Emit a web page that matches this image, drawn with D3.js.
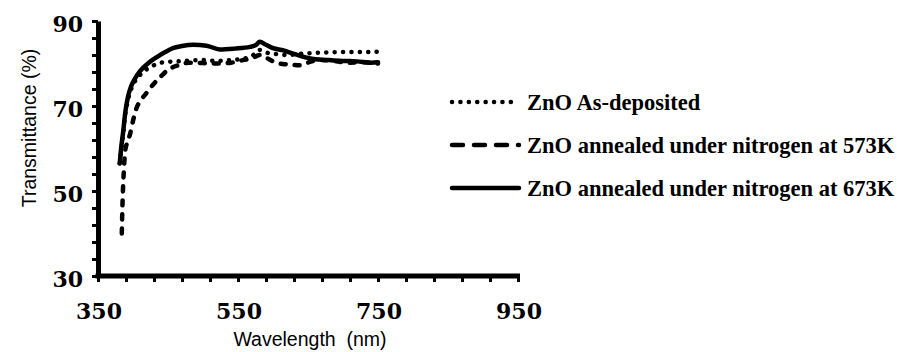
<!DOCTYPE html>
<html lang="en">
<head>
    <meta charset="UTF-8">
    <title>ZnO Transmittance</title>
    <style>
    body { margin: 0; background: #fff; }
    svg { display: block; }
    .axis path, .axis line { stroke: #000; }
    .tick-label { font-family: "DejaVu Serif", serif; font-weight: bold; font-size: 22px; fill: #000; }
    .title { font-family: "Liberation Sans", Arial, sans-serif; font-size: 19.5px; fill: #000; white-space: pre; }
    .legend-text { font-family: "Liberation Serif", serif; font-weight: bold; font-size: 22.5px; fill: #000; }
    .series { fill: none; stroke: #000; stroke-width: 4.5; stroke-linecap: round; stroke-linejoin: round; }
    </style>
</head>
<body>
<div id="chart"></div>
<script src="https://d3js.org/d3.v7.min.js"></script>
<script>
    // series data
    var seriesNames = ["ZnO As-deposited", "ZnO annealed under nitrogen at 573K", "ZnO annealed under nitrogen at 673K"];

    var wlAsDep = [381, 383, 386, 389, 393, 397, 402, 410, 420, 430, 440, 450, 465, 480, 500, 520, 540, 560, 572, 581, 590, 605, 620, 640, 660, 680, 700, 720, 740, 750];
    var tAsDep  = [56.5, 59.5, 63.5, 68, 71.5, 73.8, 75.6, 77.3, 78.7, 79.6, 80.2, 80.4, 80.5, 80.7, 80.8, 80.6, 80.8, 81.2, 82, 83.2, 82.6, 82.2, 82.0, 82.3, 82.5, 82.6, 82.7, 82.7, 82.7, 82.8];

    var wl573 = [384, 385, 387, 389, 392, 396, 400, 405, 412, 420, 430, 440, 450, 465, 480, 500, 520, 540, 557, 570, 581, 592, 606, 620, 639, 655, 670, 690, 710, 730, 750];
    var t573  = [40, 47, 55, 59.6, 61.5, 63.5, 66.5, 69.5, 71.5, 73.2, 75.3, 77, 78.5, 79.6, 80.2, 80.1, 80, 80.2, 80.8, 81.2, 82, 81.2, 80.1, 79.8, 79.6, 80.5, 80.8, 80.5, 80.2, 80.3, 80.0];

    var wl673 = [381, 383, 386, 389, 393, 397, 402, 410, 422, 434, 446, 457, 470, 486, 505, 524, 545, 567, 576, 581, 590, 600, 615, 629, 645, 660, 680, 700, 720, 740, 750];
    var t673  = [56.5, 60, 64, 68.5, 72.3, 74.5, 76.2, 78.2, 80.1, 81.5, 82.7, 83.6, 84.1, 84.4, 84.2, 83.3, 83.5, 83.9, 84.4, 85.1, 84.4, 83.6, 83.1, 82.3, 81.5, 81, 80.8, 80.6, 80.5, 80.2, 80.3];

    var xTicks = [350, 550, 750, 950];
    var yTicks = [30, 50, 70, 90];
    var xMinor = d3.range(350, 951, 40);
    var yMinor = d3.range(30, 91, 4);

    var width = 897, height = 352;

    var x = d3.scaleLinear().domain([350, 950]).range([98, 518]);
    var y = d3.scaleLinear().domain([30, 90]).range([276, 21]);

    var svg = d3.select("#chart").append("svg")
        .attr("width", width)
        .attr("height", height);

    svg.append("rect").attr("width", width).attr("height", height).attr("fill", "#fff");

    var line = d3.line()
        .x(function(d) { return x(d[0]); })
        .y(function(d) { return y(d[1]); })
        .curve(d3.curveMonotoneX);

    var styles = [
        { dash: "0.1,8.3", legendDash: "0.1,8.3" },
        { dash: "5,9", legendDash: "11,11" },
        { dash: null, legendDash: null }
    ];
    var seriesData = [d3.zip(wlAsDep, tAsDep), d3.zip(wl573, t573), d3.zip(wl673, t673)];

    // series
    seriesData.forEach(function(data, i) {
        svg.append("path")
            .datum(data)
            .attr("class", "series")
            .attr("d", line)
            .attr("stroke-dasharray", styles[i].dash);
    });

    // axes (minor ticks outside)
    var yAxis = svg.append("g")
        .attr("class", "axis")
        .attr("transform", "translate(" + x(350) + ",0)")
        .call(d3.axisLeft(y).tickValues(yMinor).tickSize(6).tickSizeOuter(0).tickFormat(""));
    yAxis.select(".domain").attr("stroke-width", 5);
    yAxis.selectAll(".tick line").attr("stroke-width", 3);

    var xAxis = svg.append("g")
        .attr("class", "axis")
        .attr("transform", "translate(0," + y(30) + ")")
        .call(d3.axisBottom(x).tickValues(xMinor).tickSize(6).tickSizeOuter(0).tickFormat(""));
    xAxis.select(".domain").attr("stroke-width", 5).attr("d", "M" + (x(350) - 2.5) + ",0H" + (x(950) + 2));
    xAxis.selectAll(".tick line").attr("stroke-width", 3);

    // tick labels
    svg.selectAll(".ylab")
        .data(yTicks)
        .enter().append("text")
        .attr("class", "tick-label")
        .attr("text-anchor", "end")
        .attr("x", 83)
        .attr("y", function(d) { return y(d) + 11; })
        .text(function(d) { return d; });

    svg.selectAll(".xlab")
        .data(xTicks)
        .enter().append("text")
        .attr("class", "tick-label")
        .attr("text-anchor", "middle")
        .attr("x", function(d) { return x(d) + 1; })
        .attr("y", 319)
        .text(function(d) { return d; });

    // axis titles
    svg.append("text")
        .attr("class", "title")
        .attr("text-anchor", "middle")
        .attr("x", 310)
        .attr("y", 346)
        .text("Wavelength  (nm)");

    svg.append("text")
        .attr("class", "title")
        .attr("text-anchor", "middle")
        .attr("transform", "translate(36,128) rotate(-90)")
        .text("Transmittance (%)");

    // legend
    var legendY = [102, 145, 188];
    var legend = svg.selectAll(".legend")
        .data(seriesNames)
        .enter().append("g")
        .attr("transform", function(d, i) { return "translate(0," + legendY[i] + ")"; });

    legend.append("line")
        .attr("class", "series")
        .attr("x1", 452).attr("x2", 519)
        .attr("y1", 0).attr("y2", 0)
        .attr("stroke-dasharray", function(d, i) { return styles[i].legendDash; });

    legend.append("text")
        .attr("class", "legend-text")
        .attr("x", 527)
        .attr("y", 8)
        .text(function(d) { return d; });
</script>
</body>
</html>
